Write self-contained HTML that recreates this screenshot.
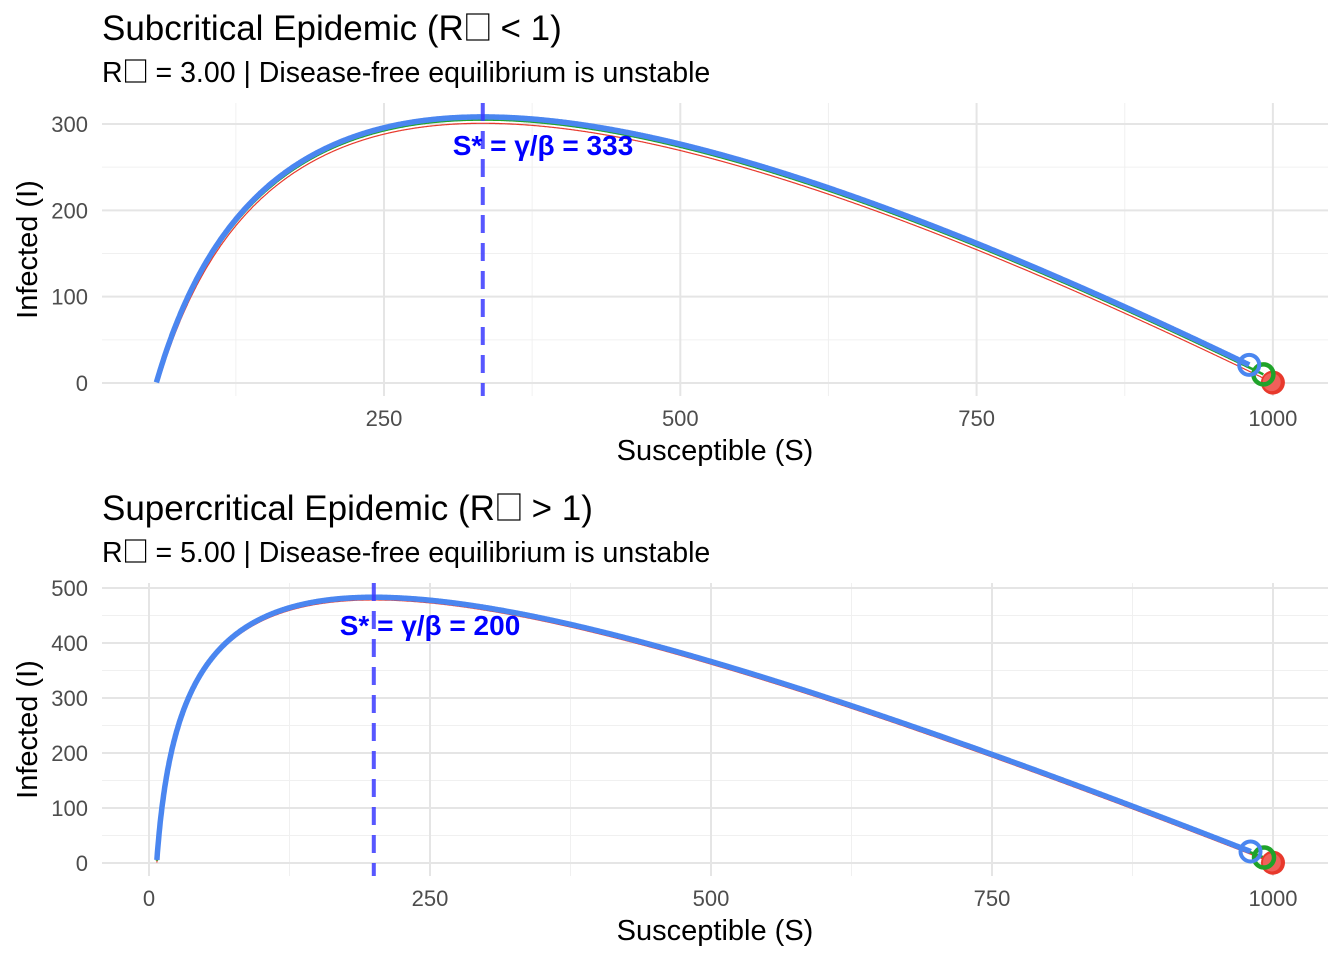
<!DOCTYPE html>
<html><head><meta charset="utf-8"><style>
body{margin:0;background:#fff}
svg text{font-family:"Liberation Sans","DejaVu Sans",sans-serif;white-space:pre}
</style></head><body>
<svg id="s" width="1344" height="960" xmlns="http://www.w3.org/2000/svg">
<rect width="1344" height="960" fill="#fff"/>
<g id="g"></g>
</svg>
<script>
const NS="http://www.w3.org/2000/svg";
const g=document.getElementById('g');
function el(t,a,txt){const e=document.createElementNS(NS,t);for(const k in a)e.setAttribute(k,a[k]);if(txt!==undefined)e.textContent=txt;g.appendChild(e);return e;}
function boxText(x,y,fs,a,b,bw,bh){
 const t1=el('text',{x:x,y:y,'font-size':fs,fill:'#000'},a);
 const w=t1.getComputedTextLength();
 el('rect',{x:x+w+3,y:y-bh,width:bw,height:bh,fill:'none',stroke:'#000','stroke-width':1.2});
 el('text',{x:x+w+bw+5,y:y,'font-size':fs,fill:'#000'},b);
}
function panel(o){
 const X=s=>o.x0+s*o.kx, Y=i=>o.y0-i*o.ky;
 for(const v of o.xminor) el('line',{x1:X(v),x2:X(v),y1:o.top,y2:o.bot,stroke:'#f0f0f0','stroke-width':1});
 for(const v of o.yminor) el('line',{x1:o.left,x2:o.right,y1:Y(v),y2:Y(v),stroke:'#f0f0f0','stroke-width':1});
 for(const v of o.xmajor) el('line',{x1:X(v),x2:X(v),y1:o.top,y2:o.bot,stroke:'#e5e5e5','stroke-width':2});
 for(const v of o.ymajor) el('line',{x1:o.left,x2:o.right,y1:Y(v),y2:Y(v),stroke:'#e5e5e5','stroke-width':2});
 for(const v of o.xmajor) el('text',{x:X(v),y:o.bot+30,'text-anchor':'middle','font-size':22,fill:'#4d4d4d'},String(v));
 for(const v of o.ymajor) el('text',{x:o.left-14,y:Y(v)+8,'text-anchor':'end','font-size':22,fill:'#4d4d4d'},String(v));
 el('text',{x:(o.left+o.right)/2,y:o.bot+64,'text-anchor':'middle','font-size':29,fill:'#000'},'Susceptible (S)');
 const yc=(o.top+o.bot)/2;
 el('text',{x:37,y:yc,'text-anchor':'middle','font-size':29,fill:'#000',transform:`rotate(-90 37 ${yc})`},'Infected (I)');
 boxText(102,o.top-63,35,o.title1,o.title2,22,26);
 boxText(102,o.top-21,28.5,'R',o.sub,20,22);
 const c=o.c;
 const curves=[[999,1,'#e8392c',1.2],[992,10,'#1fa32a',2.5],[980,21,'#4a86f0',5.5]];
 for(const [S0,I0,col,w] of curves){
  const N=S0+I0;let d='';let first=true;
  for(let S=S0;S>0.5;S-=0.5){const I=N-S+c*Math.log(S/S0);if(I<0){break;}d+=(first?'M':'L')+X(S).toFixed(1)+','+Y(I).toFixed(1);first=false;}
  el('path',{d:d,fill:'none',stroke:col,'stroke-width':w,'stroke-linejoin':'round'});
 }
 el('circle',{cx:X(1000),cy:Y(0.5),r:12,fill:'#e8392c'});
 el('circle',{cx:X(999),cy:Y(1),r:9,fill:'#f0605a'});
 el('circle',{cx:X(992),cy:Y(10),r:10,fill:'none',stroke:'#1fa32a','stroke-width':4.5});
 el('circle',{cx:X(980),cy:Y(21),r:10,fill:'none',stroke:'#4a86f0','stroke-width':4});
 el('line',{x1:X(c),x2:X(c),y1:o.top,y2:o.bot,stroke:'#3a3aff','stroke-opacity':0.85,'stroke-width':4,'stroke-dasharray':'18,10'});
 el('text',{x:o.lx,y:o.ly,'text-anchor':'middle','font-size':28,'font-weight':'bold',fill:'#0000ff'},'S* = \u03B3/\u03B2 = '+o.lab);
}
const kx1=296.3/250;
panel({x0:384-250*kx1,kx:kx1,y0:383,ky:259/300,left:102,right:1328,top:103,bot:396,
 xmajor:[250,500,750,1000],xminor:[125,375,625,875],ymajor:[0,100,200,300],yminor:[50,150,250],
 c:333.33,title1:'Subcritical Epidemic (R',title2:'\u00a0< 1)',sub:'\u00a0= 3.00 | Disease-free equilibrium is unstable',lab:'333',lx:543,ly:155});
const kx2=281/250;
panel({x0:149,kx:kx2,y0:863,ky:275/500,left:102,right:1328,top:583,bot:876,
 xmajor:[0,250,500,750,1000],xminor:[125,375,625,875],ymajor:[0,100,200,300,400,500],yminor:[50,150,250,350,450],
 c:200,title1:'Supercritical Epidemic (R',title2:'\u00a0> 1)',sub:'\u00a0= 5.00 | Disease-free equilibrium is unstable',lab:'200',lx:430,ly:635});
</script>
</body></html>
